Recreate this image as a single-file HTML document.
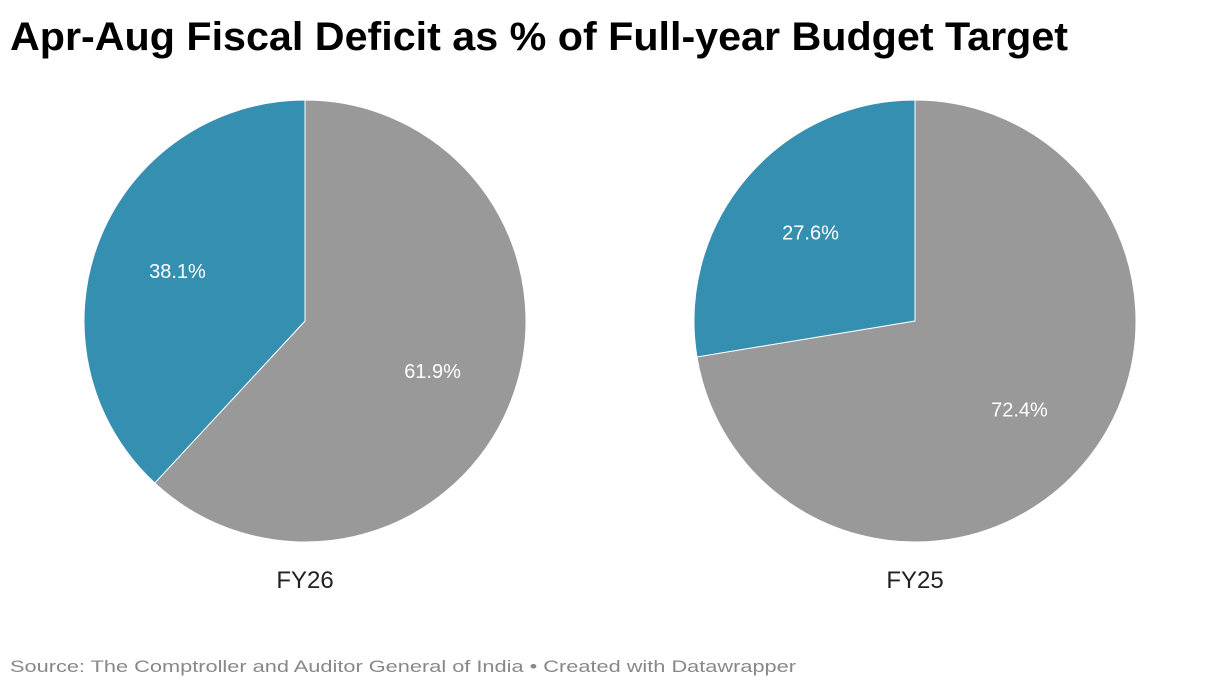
<!DOCTYPE html>
<html><head><meta charset="utf-8"><style>
body{margin:0;background:#fff;width:1220px;height:690px;overflow:hidden;font-family:"Liberation Sans",sans-serif}
</style></head><body>
<svg id="chart" width="1220" height="690">
<text x="10" y="50" font-size="40" font-weight="bold" fill="#000" textLength="1058" lengthAdjust="spacingAndGlyphs">Apr-Aug Fiscal Deficit as % of Full-year Budget Target</text>
<g id="pies"></g>
<text x="10" y="672" font-size="17" fill="#888" textLength="786" lengthAdjust="spacingAndGlyphs">Source: The Comptroller and Auditor General of India • Created with Datawrapper</text>
</svg>
<script>
const pieLabels = ["FY26", "FY25"];
const blueValues = [38.1, 27.6];
const grayValues = [61.9, 72.4];
const centersX = [305, 915];
const cy = 321, r = 221, k = 0.62;
const g = document.getElementById('pies');
const NS = 'http://www.w3.org/2000/svg';
function pt(frac){const a = frac*2*Math.PI; return [Math.sin(a), -Math.cos(a)];}
pieLabels.forEach((lab,i)=>{
  const cx = centersX[i], tot = blueValues[i]+grayValues[i];
  const gf = grayValues[i]/tot;
  const slices = [{v:grayValues[i], s:0, e:gf, c:'#999999', n:'gray-slice'},{v:blueValues[i], s:gf, e:1, c:'#348fb1', n:'blue-slice'}];
  slices.forEach(sl=>{
    const [x1,y1]=pt(sl.s),[x2,y2]=pt(sl.e);
    const large = (sl.e-sl.s)>0.5?1:0;
    const p = document.createElementNS(NS,'path');
    p.setAttribute('d',`M${cx},${cy} L${cx+r*x1},${cy+r*y1} A${r},${r} 0 ${large} 1 ${cx+r*x2},${cy+r*y2} Z`);
    p.setAttribute('fill',sl.c);p.setAttribute('stroke','#fff');p.setAttribute('stroke-width','1');
    
    
    g.appendChild(p);
    const [mx,my]=pt((sl.s+sl.e)/2);
    const t = document.createElementNS(NS,'text');
    t.setAttribute('x',cx+mx*r*k);t.setAttribute('y',cy+my*r*k+7);
    t.setAttribute('text-anchor','middle');t.setAttribute('font-size','20');t.setAttribute('fill','#fff');
    t.textContent = sl.v.toFixed(1)+'%';
    
    
    g.appendChild(t);
  });
  const t = document.createElementNS(NS,'text');
  t.setAttribute('x',cx);t.setAttribute('y',588);t.setAttribute('text-anchor','middle');
  t.setAttribute('font-size','24');t.setAttribute('fill','#222');t.textContent=lab;
  
  
  g.appendChild(t);
});
</script>
</body></html>
